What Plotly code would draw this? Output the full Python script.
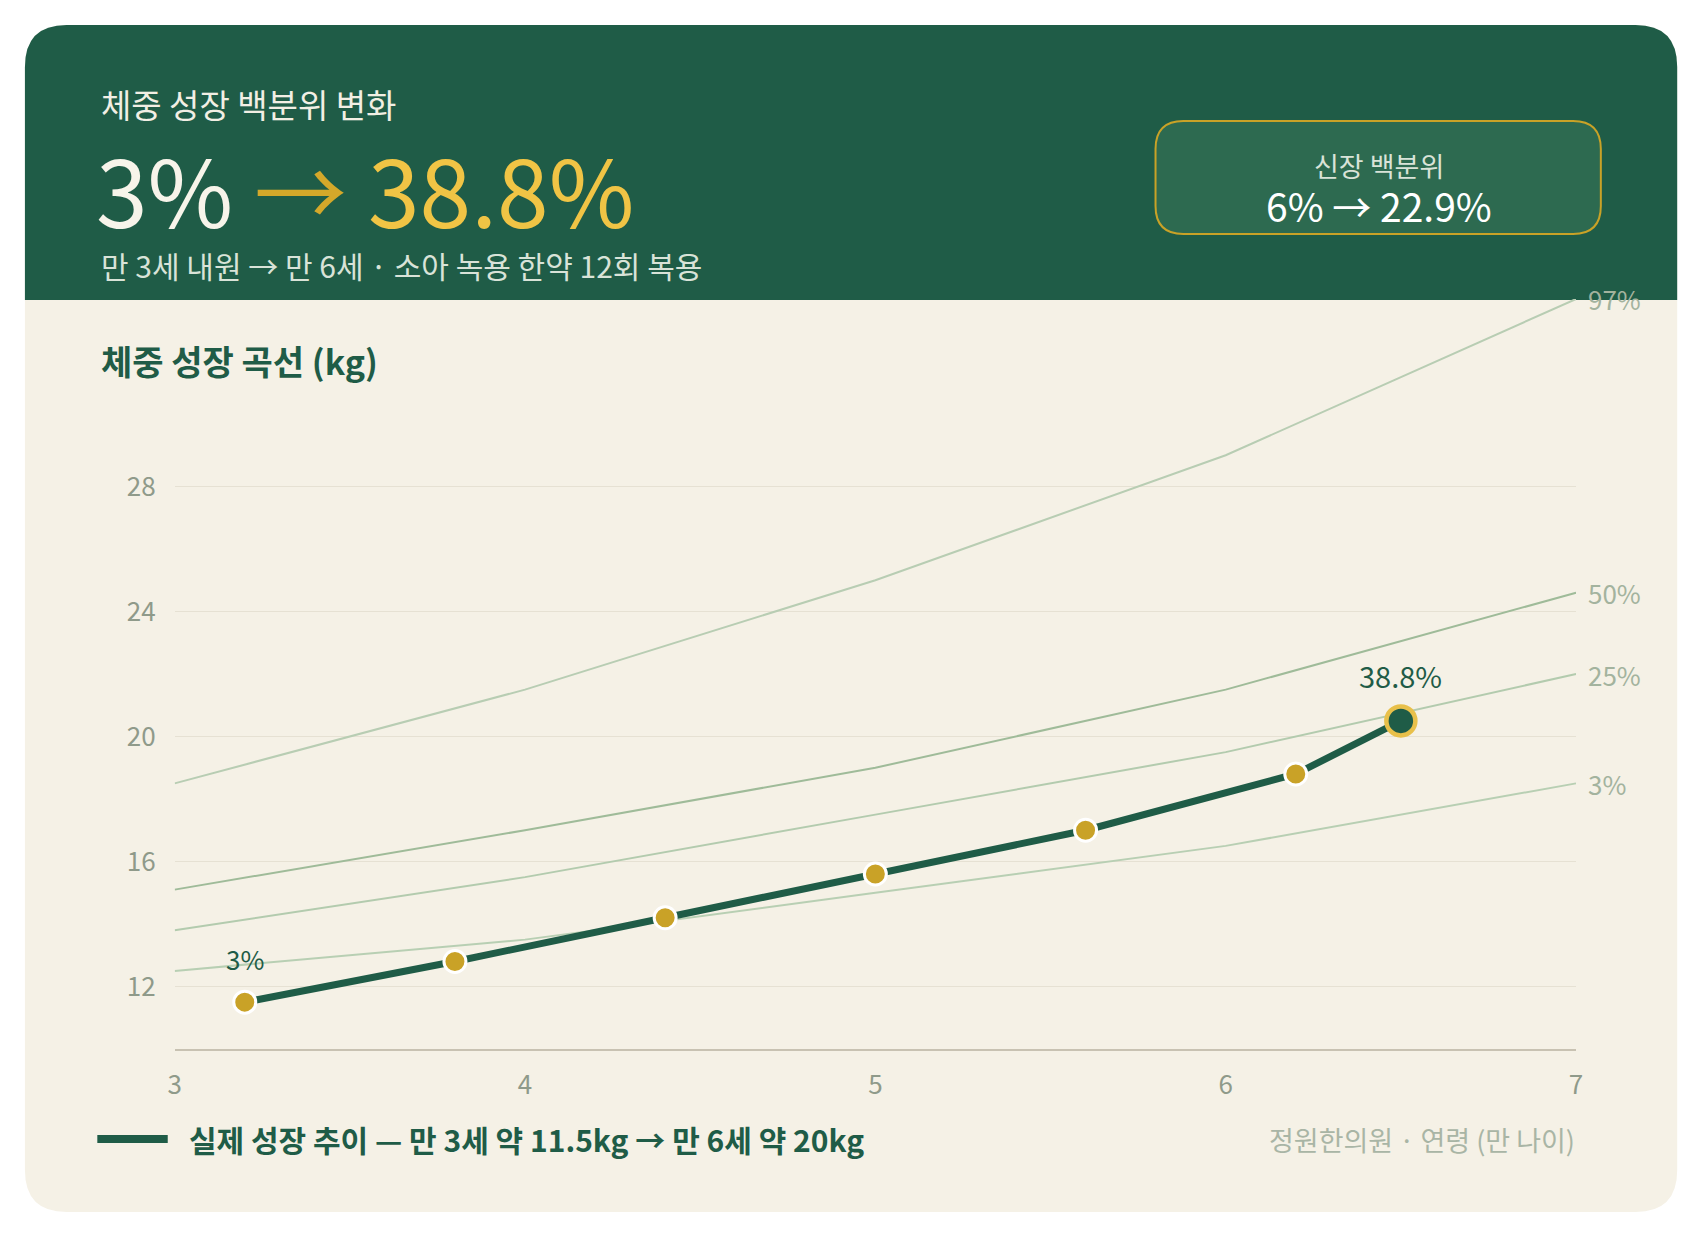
import plotly.graph_objects as go

W, H = 1700, 1238
ages = [3, 4, 5, 6, 7]
p97 = [18.5, 21.5, 25.0, 29.0, 34.0]
p50 = [15.1, 17.0, 19.0, 21.5, 24.6]
p25 = [13.8, 15.5, 17.5, 19.5, 22.0]
p3 = [12.5, 13.5, 15.0, 16.5, 18.5]
actual_age = [3.2, 3.8, 4.4, 5.0, 5.6, 6.2, 6.5]
actual_kg = [11.5, 12.8, 14.2, 15.6, 17.0, 18.8, 20.5]
yticks = [12, 16, 20, 24, 28]
curve_labels = ["97%", "50%", "25%", "3%"]

FONT = "Noto Sans CJK KR"
HEAD = "#1f5c47"
CARD = "#f5f1e6"
def px(x): return x / W
def py(y): return 1 - y / H

fig = go.Figure()
for vals, col in zip([p97, p50, p25, p3], ["#b8cdb3", "#9fbb99", "#b3cbae", "#b8cfb3"]):
    fig.add_trace(go.Scatter(x=ages, y=vals, mode="lines", line=dict(color=col, width=2), hoverinfo="skip"))
fig.add_trace(go.Scatter(x=actual_age, y=actual_kg, mode="lines", line=dict(color=HEAD, width=7)))
fig.add_trace(go.Scatter(x=actual_age[:-1], y=actual_kg[:-1], mode="markers",
                         marker=dict(color="#c9a227", size=22, line=dict(color="white", width=3))))
fig.add_trace(go.Scatter(x=actual_age[-1:], y=actual_kg[-1:], mode="markers",
                         marker=dict(color=HEAD, size=29, line=dict(color="#e8c04a", width=4.5))))

def card_path(x0, y0, x1, y1, r, top_only=False):
    X0, X1 = px(x0), px(x1); Y0, Y1 = py(y0), py(y1)
    rx, ry = r / W, r / H
    if top_only:
        return (f"M{X0},{Y1} L{X0},{Y0-ry} Q{X0},{Y0} {X0+rx},{Y0} L{X1-rx},{Y0} "
                f"Q{X1},{Y0} {X1},{Y0-ry} L{X1},{Y1} Z")
    return (f"M{X0},{Y1+ry} L{X0},{Y0-ry} Q{X0},{Y0} {X0+rx},{Y0} L{X1-rx},{Y0} Q{X1},{Y0} {X1},{Y0-ry} "
            f"L{X1},{Y1+ry} Q{X1},{Y1} {X1-rx},{Y1} L{X0+rx},{Y1} Q{X0},{Y1} {X0},{Y1+ry} Z")

shapes = [
    dict(type="path", xref="paper", yref="paper", path=card_path(10, 17, 1676, 1204, 42), fillcolor=CARD, line_width=0, layer="below"),
    dict(type="path", xref="paper", yref="paper", path=card_path(10, 17, 1676, 292, 42, True), fillcolor=HEAD, line_width=0, layer="below"),
    dict(type="path", xref="paper", yref="paper", path=card_path(1150, 113, 1599, 226, 28), fillcolor="#2d6a50",
         line=dict(color="#c9a227", width=2), layer="below"),
    dict(type="line", xref="paper", yref="paper", x0=px(83), x1=px(154), y0=py(1131), y1=py(1131),
         line=dict(color=HEAD, width=8)),
]

ann = []
def A(x, y, text, size, color, xa="left", bold=False):
    ann.append(dict(xref="paper", yref="paper", x=px(x), y=py(y), text=f"<b>{text}</b>" if bold else text,
                    showarrow=False, xanchor=xa, yanchor="middle", font=dict(family=FONT, size=size, color=color)))
A(85, 96, "체중 성장 백분위 변화", 33, "#f2efe4")
A(80, 180, "3% <span style='color:#d4a82a'>→</span> <span style='color:#f0c445'>38.8%</span>", 93, "#f7f4ea")
A(85, 257, "만 3세 내원 → 만 6세 · 소아 녹용 한약 12회 복용", 30, "#d9e3d8")
A(1375, 157, "신장 백분위", 27, "#d9e3d8", "center")
A(1375, 197, "6% → 22.9%", 39, "#ffffff", "center")
A(85, 353, "체중 성장 곡선 (kg)", 34, HEAD, bold=True)
A(173, 1131, "실제 성장 추이 — 만 3세 약 11.5kg → 만 6세 약 20kg", 30, HEAD, bold=True)
A(1575, 1131, "정원한의원 · 연령 (만 나이)", 27, "#a9b5a5", "right")
for lab, vals in zip(curve_labels, [p97, p50, p25, p3]):
    ann.append(dict(x=7, y=vals[-1], text=lab, showarrow=False, xanchor="left", xshift=10,
                    font=dict(family=FONT, size=26, color="#a3b39e")))
ann.append(dict(x=actual_age[-1], y=actual_kg[-1], text="38.8%", showarrow=False, yshift=46,
                font=dict(family=FONT, size=29, color=HEAD)))
ann.append(dict(x=actual_age[0], y=actual_kg[0], text="3%", showarrow=False, yshift=44,
                font=dict(family=FONT, size=26, color=HEAD)))

fig.update_layout(
    width=W, height=H, margin=dict(l=0, r=0, t=0, b=0), paper_bgcolor="white", plot_bgcolor="rgba(0,0,0,0)",
    showlegend=False, shapes=shapes, annotations=ann, font=dict(family=FONT),
    xaxis=dict(domain=[px(161), px(1574)], range=[3, 7], tickvals=ages, showgrid=False, zeroline=False,
               showline=True, linecolor="#c8c2b2", linewidth=2, ticks="", ticklabelstandoff=12,
               tickfont=dict(size=26, color="#8f9a8a")),
    yaxis=dict(domain=[py(1041), py(291)], range=[10, 34], tickvals=yticks, showgrid=True,
               gridcolor="#e6e1d3", gridwidth=1, zeroline=False, ticks="", ticklabelstandoff=18,
               tickfont=dict(size=26, color="#8f9a8a")),
)
fig.write_html("out.html")
